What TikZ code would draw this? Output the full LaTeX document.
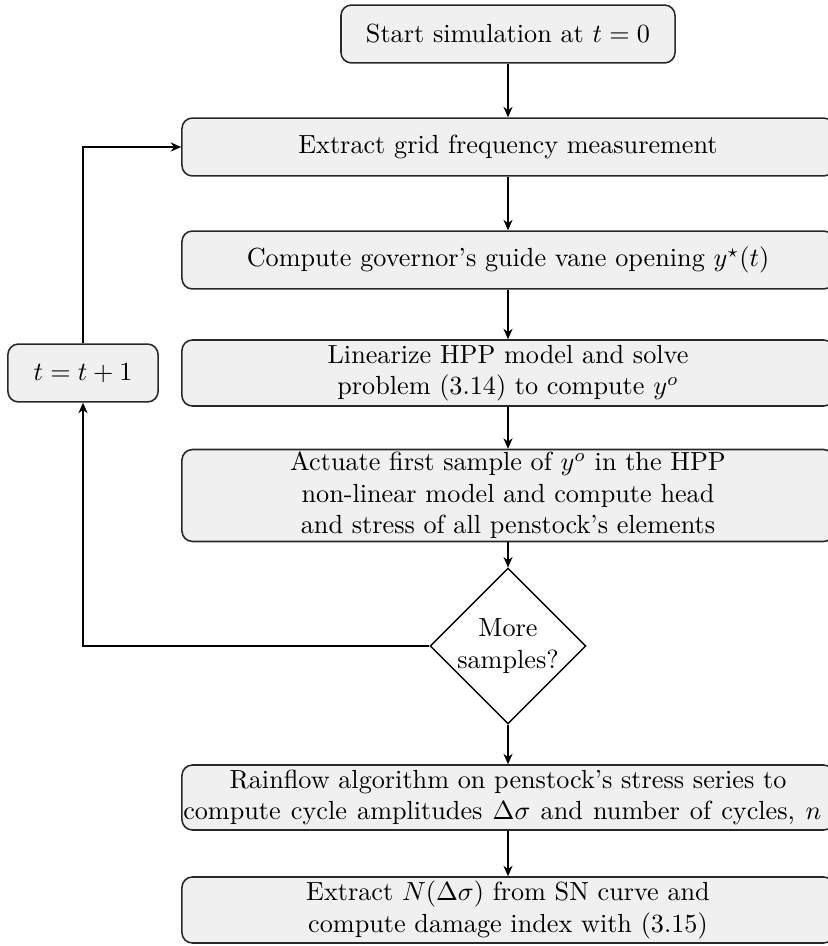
\documentclass[tikz,border=0pt]{standalone}
\usetikzlibrary{shapes.geometric,arrows.meta}
\definecolor{boxfill}{RGB}{240,240,240}
\definecolor{boxline}{RGB}{40,40,40}
\begin{document}
\begin{tikzpicture}[x=0.38168pt,y=-0.38168pt,
  procbox/.style={draw=boxline,line width=0.6pt,fill=boxfill,rounded corners=4pt,
    align=center,inner xsep=1pt,inner ysep=0.5pt},
  mainbox/.style={procbox,minimum width=248.9pt},
  decbox/.style={draw=black,line width=0.5pt,fill=white,diamond,aspect=1,
    minimum size=58pt,inner sep=0pt,align=center},
  flow/.style={draw=black,line width=0.45pt,-{Stealth[length=4pt,width=3.5pt]}}]
\useasboundingbox (0,0) rectangle (827,946);
\node[procbox,minimum width=127.5pt,minimum height=22.1pt] (start) at (508,34) {Start simulation at $t=0$};
\node[mainbox,minimum height=22.1pt] (grid) at (508,147) {Extract grid frequency measurement};
\node[mainbox,minimum height=22.1pt] (gov) at (508,260) {Compute governor's guide vane opening $y^\star(t)$};
\node[mainbox,minimum height=25.2pt] (lin) at (508,373) {Linearize HPP model and solve\\problem (3.14) to compute $y^o$};
\node[mainbox,minimum height=35.1pt] (act) at (508,495.5) {Actuate first sample of $y^o$ in the HPP\\non-linear model and compute head\\and stress of all penstock's elements};
\node[decbox] (more) at (508,646) {More\\samples?};
\node[mainbox,minimum height=24.8pt,inner xsep=0pt] (rain) at (508,797.5) {Rainflow algorithm on penstock's stress series to\\\makebox[243.5pt][s]{compute cycle amplitudes $\Delta\sigma$ and number of cycles, $n$}\hspace*{4.4pt}};
\node[mainbox,minimum height=25.2pt] (dmg) at (508,910) {Extract $N(\Delta\sigma)$ from SN curve and\\compute damage index with (3.15)};
\node[procbox,minimum width=57.3pt,minimum height=22.1pt] (inc) at (83,373) {$t=t+1$};
\draw[flow] (start) -- (grid);
\draw[flow] (grid) -- (gov);
\draw[flow] (gov) -- (lin);
\draw[flow] (lin) -- (act);
\draw[flow] (act) -- (more);
\draw[flow] (more) -- (rain);
\draw[flow] (rain) -- (dmg);
\draw[flow] (more.west) -| (inc.south);
\draw[flow] (inc.north) |- (grid.west);
\end{tikzpicture}
\end{document}
